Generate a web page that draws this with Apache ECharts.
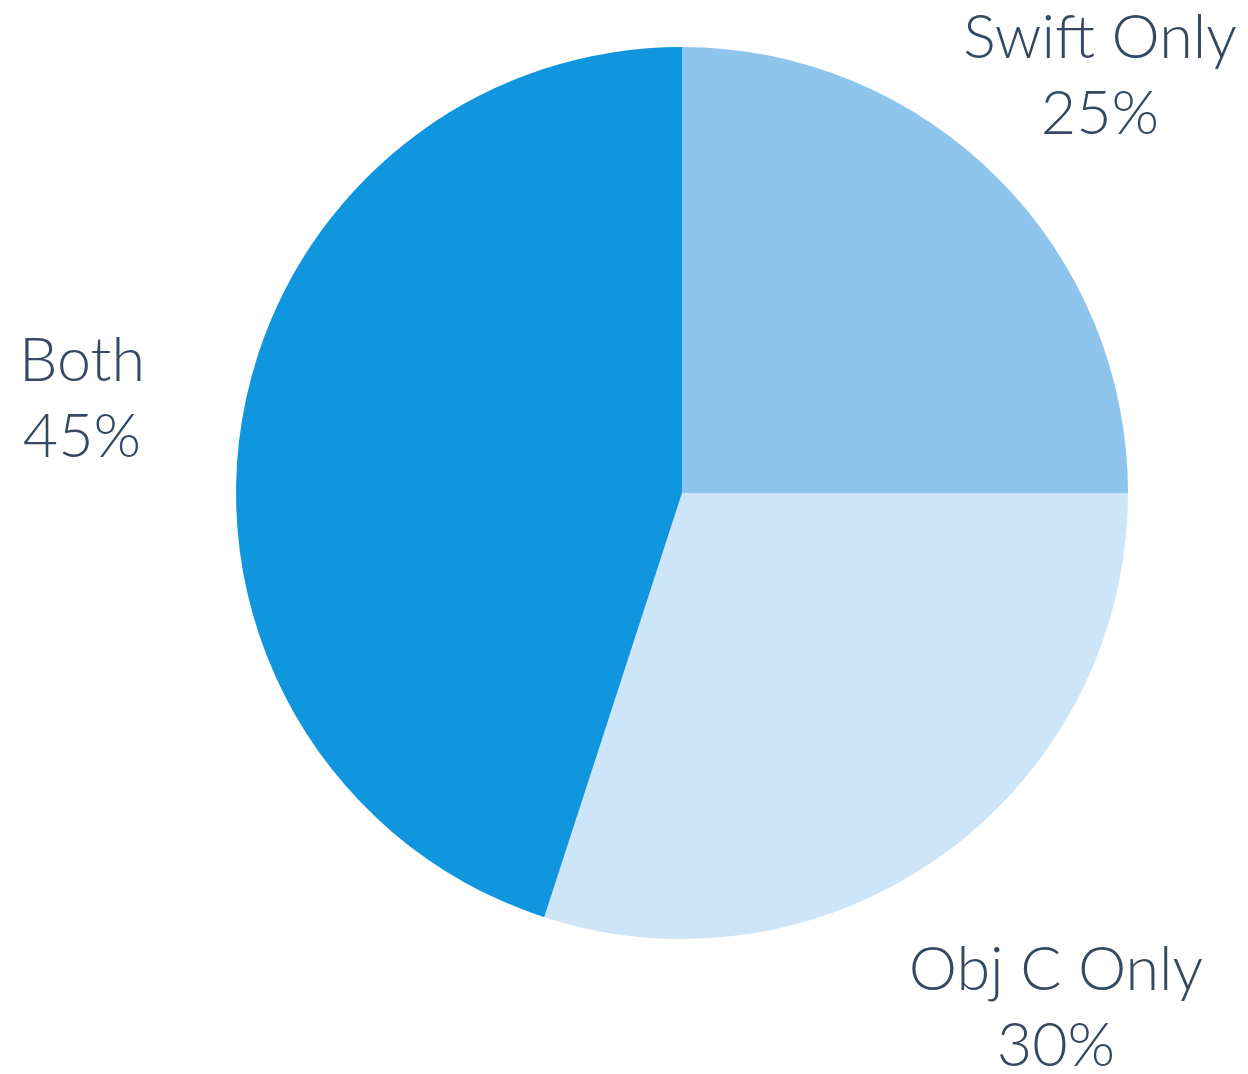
<!DOCTYPE html>
<html>
<head>
<meta charset="utf-8">
<script src="https://cdn.jsdelivr.net/npm/echarts@6/dist/echarts.min.js"></script>
<style>
  html, body { margin: 0; padding: 0; background: #ffffff; }
  #chart { width: 1248px; height: 1074px; }
</style>
</head>
<body>
<div id="chart"></div>
<script>
// Share of projects by language used
const categories = ['Swift Only', 'Obj C Only', 'Both'];
const shares = [25, 30, 45];
const sliceColors = ['#8EC5EC', '#CDE5F7', '#1096DF'];

// Where each label block sits (centre x, top y of first line)
const labelSpots = {
  'Swift Only': { x: 1100, y: 0 },
  'Obj C Only': { x: 1056, y: 932 },
  'Both': { x: 82, y: 323 }
};

const chart = echarts.init(document.getElementById('chart'), null, { renderer: 'canvas' });

chart.setOption({
  animation: false,
  series: [{
    type: 'pie',
    center: [682, 493],
    radius: [0, 446],
    startAngle: 90,
    clockwise: true,
    silent: true,
    data: categories.map((name, i) => ({
      name: name,
      value: shares[i],
      itemStyle: { color: sliceColors[i] }
    })),
    itemStyle: { borderWidth: 0 },
    label: {
      show: true,
      position: 'outside',
      alignTo: 'none',
      overflow: 'none',
      formatter: p => p.name + '\n' + p.value + '%',
      fontFamily: 'Lato',
      fontWeight: 300,
      fontSize: 61,
      lineHeight: 76,
      color: '#354a62',
      align: 'center'
    },
    labelLine: { show: false },
    labelLayout: params => {
      const name = categories[params.dataIndex];
      const spot = labelSpots[name];
      return {
        x: spot.x,
        y: spot.y,
        align: 'center',
        verticalAlign: 'top'
      };
    }
  }]
});
</script>
</body>
</html>
